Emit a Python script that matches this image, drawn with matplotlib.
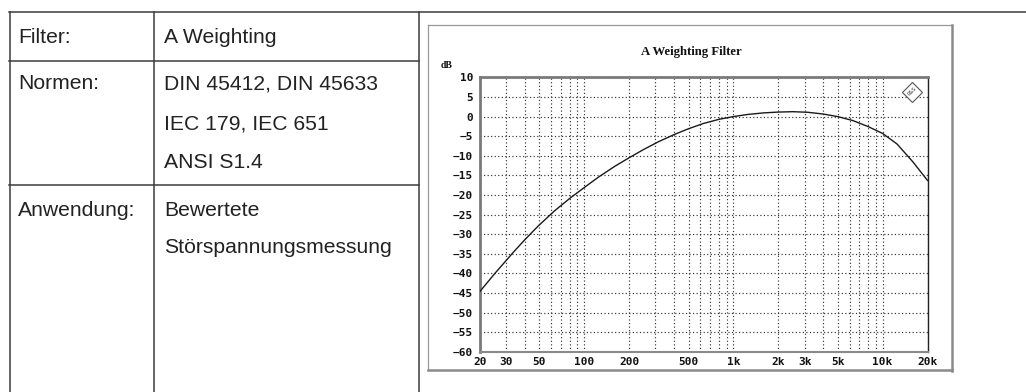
import matplotlib
matplotlib.use("Agg")
import matplotlib.pyplot as plt
from matplotlib.lines import Line2D
from matplotlib.ticker import FixedLocator, NullFormatter

# ---------------- data ----------------
freq_hz = [20, 25.2, 33.5, 40, 49.2, 63, 80.4, 100, 125, 160, 200, 250, 315, 400,
           500, 630, 800, 1000, 1250, 1600, 2000, 2500, 3150, 4000, 5000, 6300,
           8000, 10000, 12500, 16000, 20000]
level_db = [-44.6, -40.0, -34.6, -31.4, -27.9, -24.1, -20.8, -18.1, -15.4, -12.7,
            -10.5, -8.4, -6.4, -4.6, -3.1, -1.75, -0.7, 0.0, 0.55, 0.95, 1.15,
            1.25, 1.1, 0.65, 0.0, -1.0, -2.55, -4.3, -7.0, -11.6, -16.3]

x_tick_values = [20, 30, 50, 100, 200, 500, 1000, 2000, 3000, 5000, 10000, 20000]
x_tick_labels = ["20", "30", "50", "100", "200", "500", "1k", "2k", "3k", "5k", "10k", "20k"]
y_tick_values = [10, 5, 0, -5, -10, -15, -20, -25, -30, -35, -40, -45, -50, -55, -60]

chart_title = "A Weighting Filter"
y_unit = "dB"

table_rows = [
    ("Filter:", ["A Weighting"]),
    ("Normen:", ["DIN 45412, DIN 45633", "IEC 179, IEC 651", "ANSI S1.4"]),
    ("Anwendung:", ["Bewertete", "Störspannungsmessung"]),
]

# ---------------- figure ----------------
W, H = 1026, 392
fig = plt.figure(figsize=(W / 100, H / 100), dpi=100)
fig.patch.set_facecolor("white")


def fx(px):
    return px / W


def fy(py):
    return 1 - py / H


def hline(x0, x1, y, **kw):
    fig.add_artist(Line2D([fx(x0), fx(x1)], [fy(y), fy(y)], transform=fig.transFigure, **kw))


def vline(x, y0, y1, **kw):
    fig.add_artist(Line2D([fx(x), fx(x)], [fy(y0), fy(y1)], transform=fig.transFigure, **kw))


tbl_col = "#3c3c3c"
tlw = 1.1
hline(9, W, 12, color=tbl_col, lw=tlw)
hline(9, 419, 61, color=tbl_col, lw=tlw)
hline(9, 419, 185, color=tbl_col, lw=tlw)
vline(9.5, 12, H, color=tbl_col, lw=tlw)
vline(154, 12, H, color=tbl_col, lw=tlw)
vline(419, 12, H, color=tbl_col, lw=tlw)

txt_col = "#222222"
fs = 15.2
baselines = [[42.7], [89.3, 129.3, 168.3], [216, 253.3]]
for (label, lines), bls in zip(table_rows, baselines):
    fig.text(fx(18), fy(bls[0]), label, fontsize=fs, family="Liberation Sans",
             color=txt_col, va="baseline", ha="left")
    for line, bl in zip(lines, bls):
        fig.text(fx(164), fy(bl), line, fontsize=fs, family="Liberation Sans",
                 color=txt_col, va="baseline", ha="left")

# panel box with shadow
hline(428, 951, 25, color="#9a9a9a", lw=0.9)
vline(428, 25, 370, color="#9a9a9a", lw=0.9)
vline(951.5, 25, 371, color="#8a8a8a", lw=1.8)
hline(428, 952, 370, color="#8a8a8a", lw=1.8)

# ---------------- chart ----------------
left, right, top, bottom = 480, 927.5, 77.4, 351.7
ax = fig.add_axes([fx(left), fy(bottom), fx(right) - fx(left), (bottom - top) / H])
ax.set_xscale("log")
ax.set_xlim(20, 20000)
ax.set_ylim(-60, 10)

ax.plot(freq_hz, level_db, color="#1a1a1a", lw=1.0, zorder=3)

grid_x = [20, 30, 40, 50, 60, 70, 80, 90, 100, 200, 300, 400, 500, 600, 700, 800, 900,
          1000, 2000, 3000, 4000, 5000, 6000, 7000, 8000, 9000, 10000]
ax.xaxis.set_major_locator(FixedLocator(x_tick_values))
ax.set_xticklabels(x_tick_labels)
ax.xaxis.set_minor_locator(FixedLocator(grid_x))
ax.xaxis.set_minor_formatter(NullFormatter())
ax.set_yticks(y_tick_values)
ax.set_yticklabels([("\u2212" + str(-v)) if v < 0 else str(v) for v in y_tick_values])

gkw = dict(color="#333333", lw=0.85, linestyle=(0, (1, 2)))
ax.grid(True, which="both", axis="x", **gkw)
ax.grid(True, which="major", axis="y", **gkw)
ax.tick_params(which="both", length=0)
ax.tick_params(axis="x", pad=4)
ax.tick_params(axis="y", pad=5)
for lab in ax.get_xticklabels() + ax.get_yticklabels():
    lab.set_family("DejaVu Sans Mono")
    lab.set_fontweight("bold")
    lab.set_fontsize(8)
    lab.set_color("#111111")

for s in ("left", "top"):
    ax.spines[s].set_color("#7a7a7a")
    ax.spines[s].set_linewidth(2.0)
ax.spines["bottom"].set_color("#8a8a8a")
ax.spines["bottom"].set_linewidth(1.5)
ax.spines["right"].set_color("#222222")
ax.spines["right"].set_linewidth(1.0)
ax.spines["right"].set_linestyle((0, (1, 1)))

# title and unit
fig.text(fx(691.7), fy(52), chart_title, fontsize=9.2, family="Liberation Serif",
         fontweight="bold", ha="center", va="center", color="#111111")
fig.text(fx(447), fy(66), y_unit, fontsize=7, family="Liberation Serif",
         fontweight="bold", ha="center", va="center", color="#111111")

# small logo (diamond)
fig.add_artist(Line2D([fx(912)], [fy(91.5)], marker="D", markersize=10,
                      markerfacecolor="white", markeredgecolor="#555555",
                      markeredgewidth=0.8, transform=fig.transFigure))
fig.text(fx(912), fy(91.5), "R&S", fontsize=3.5, ha="center", va="center",
         color="#333333", rotation=45)

fig.savefig("out.png", dpi=100)
